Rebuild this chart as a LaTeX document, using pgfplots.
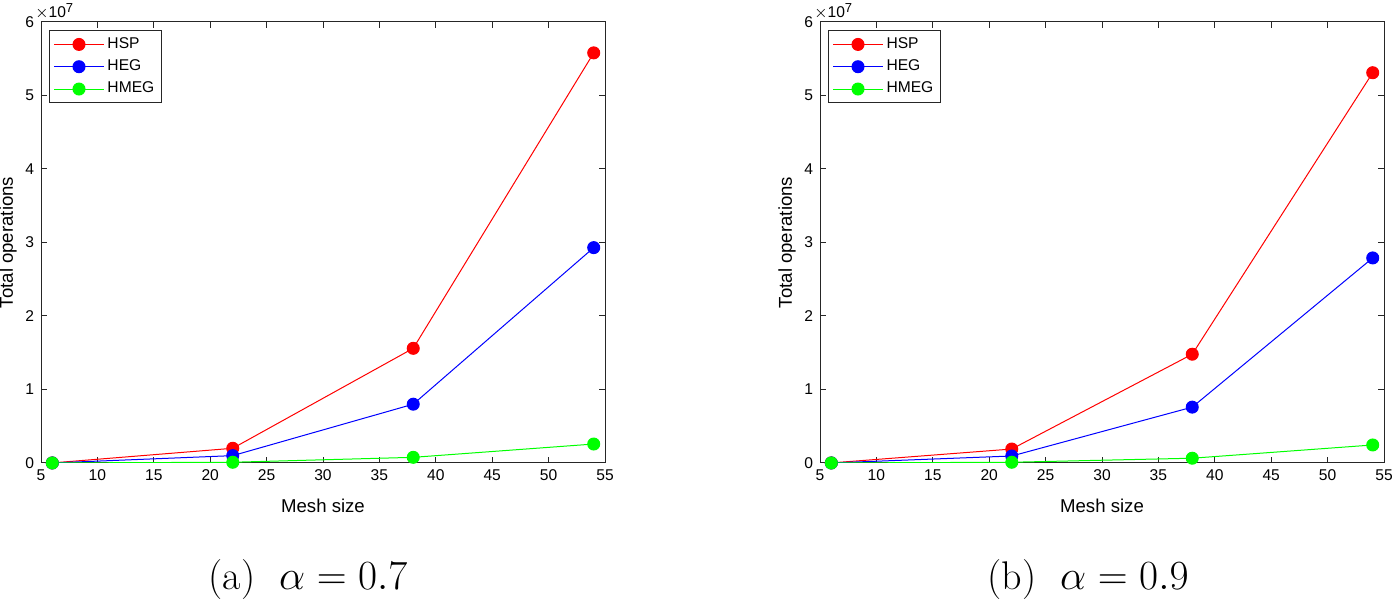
\documentclass[border=0pt]{standalone}
\usepackage{pgfplots}
\pgfplotsset{compat=1.18}
\usepackage{fontspec}
\setsansfont{Liberation Sans}
\definecolor{axgray}{rgb}{0.15,0.15,0.15}
\pgfplotsset{
  mystyle/.style={
    scale only axis, width=282pt, height=220.5pt,
    anchor=south west,
    xmin=5, xmax=55, ymin=0, ymax=6e7,
    xtick={5,10,...,55}, ytick={0,1e7,2e7,3e7,4e7,5e7,6e7},
    axis line style={axgray, line width=0.5pt},
    major tick style={axgray, line width=0.5pt},
    major tick length=3pt,
    tick align=inside,
    every tick label/.append style={font=\sffamily\fontsize{7.8}{9}\selectfont, text=black},
    /pgf/number format/assume math mode=true,
    scaled y ticks=base 10:-7,
    ytick scale label code/.code={$\times$10\raisebox{0.6ex}{\fontsize{6.5}{7}\selectfont ##1}},
    every y tick scale label/.style={at={(rel axis cs:0,1)}, anchor=south west, xshift=-4pt, inner sep=1pt, font=\sffamily\fontsize{7.8}{9}\selectfont},
    xlabel={Mesh size}, ylabel={Total operations},
    every axis x label/.style={at={(axis description cs:0.5,-0.0975)}, anchor=center, font=\sffamily\fontsize{9.3}{11}\selectfont},
    every axis y label/.style={at={(axis description cs:-0.0585,0.5)}, anchor=center, rotate=90, font=\sffamily\fontsize{9.3}{11}\selectfont},
    legend cell align=left,
    legend style={at={(rel axis cs:0,1)}, anchor=north west, xshift=4pt, yshift=-4pt,
      font=\sffamily\fontsize{7.8}{9}\selectfont, draw=axgray, line width=0.5pt,
      row sep=1.2pt, inner sep=2pt,
      nodes={inner sep=1.5pt}},
    legend image code/.code={\draw[mark repeat=2,mark phase=2] plot coordinates {(0pt,0pt) (12.5pt,0pt) (25pt,0pt)};},
    every axis plot/.append style={line width=0.5pt, mark=*, mark size=3pt},
  }
}
\begin{document}
\begin{tikzpicture}
\useasboundingbox (0,0) rectangle (696pt,301.5pt);
\begin{axis}[mystyle, at={(20.5pt,70pt)}]
\addplot[red, mark options={fill=red, draw=red}] coordinates {(6,1e4) (22,2.0e6) (38,1.56e7) (54,5.58e7)};
\addlegendentry{HSP}
\addplot[blue, mark options={fill=blue, draw=blue}] coordinates {(6,5e3) (22,1.0e6) (38,8.0e6) (54,2.93e7)};
\addlegendentry{HEG}
\addplot[green, mark options={fill=green, draw=green}] coordinates {(6,2e3) (22,1.0e5) (38,7.7e5) (54,2.58e6)};
\addlegendentry{HMEG}
\end{axis}
\begin{axis}[mystyle, at={(410pt,70pt)}]
\addplot[red, mark options={fill=red, draw=red}] coordinates {(6,1e4) (22,1.9e6) (38,1.48e7) (54,5.31e7)};
\addlegendentry{HSP}
\addplot[blue, mark options={fill=blue, draw=blue}] coordinates {(6,5e3) (22,0.95e6) (38,7.6e6) (54,2.79e7)};
\addlegendentry{HEG}
\addplot[green, mark options={fill=green, draw=green}] coordinates {(6,2e3) (22,1.0e5) (38,6.5e5) (54,2.45e6)};
\addlegendentry{HMEG}
\end{axis}
\node[anchor=center, inner sep=0pt, font=\fontsize{20}{24}\selectfont] at (154pt,11.5pt) {(a)\hspace{0.6em}$\alpha=0.7$};
\node[anchor=center, inner sep=0pt, font=\fontsize{20}{24}\selectfont] at (544pt,11.5pt) {(b)\hspace{0.6em}$\alpha=0.9$};
\end{tikzpicture}
\end{document}
